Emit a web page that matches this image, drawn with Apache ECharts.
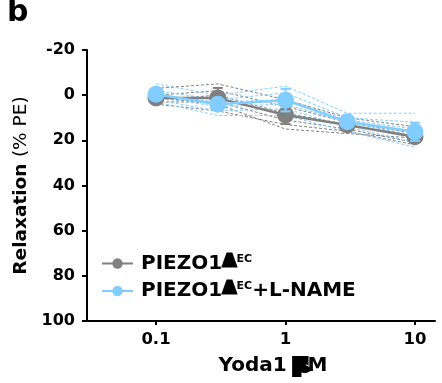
<!DOCTYPE html>
<html>
<head>
<meta charset="utf-8">
<script src="https://cdn.jsdelivr.net/npm/echarts@6/dist/echarts.min.js"></script>
<style>
html,body{margin:0;padding:0;background:#fff;}
#chart{width:442px;height:383px;}
</style>
</head>
<body>
<div id="chart"></div>
<script>
// ---- data ----
const doses = [0.1, 0.3, 1, 3, 10];            // Yoda1 µM
const xTickValues = [0.1, 1, 10];
const xTickLabels = ['0.1', '1', '10'];
const yTickMin = -20, yTickMax = 100, yTickStep = 20;

const seriesNames = ['PIEZO1ΔEC', 'PIEZO1ΔEC+L-NAME'];

const greyMean = [1.3, 1.3, 8.8, 13.2, 18.4];
const greySem  = [1.5, 4.5, 4.0, 1.5, 2.0];
const blueMean = [-0.4, 4.0, 2.2, 11.8, 16.2];
const blueSem  = [1.0, 2.0, 5.0, 1.5, 4.0];

const greyInd1 = [-3, -5, 2, 10, 14];
const greyInd2 = [0, -2, 5, 12, 17];
const greyInd3 = [2, 0, 8, 13, 19];
const greyInd4 = [3, 3, 11, 15, 21];
const greyInd5 = [4, 7, 13, 16, 22];
const greyInd6 = [1, 4, 15, 17, 19];

const blueInd1 = [-5, 0, -4, 8, 8];
const blueInd2 = [-2, 2, -1, 10, 12];
const blueInd3 = [0, 3, 2, 11, 15];
const blueInd4 = [1, 5, 4, 12, 18];
const blueInd5 = [2, 7, 6, 14, 21];
const blueInd6 = [3, 9, 9, 16, 23];

// ---- styling ----
const GREY = '#808080';
const BLUE = '#82CDFF';
const FONT = 'DejaVu Sans';

const greyInds = [greyInd1, greyInd2, greyInd3, greyInd4, greyInd5, greyInd6];
const blueInds = [blueInd1, blueInd2, blueInd3, blueInd4, blueInd5, blueInd6];

function pairs(vals) { return doses.map((d, i) => [d, vals[i]]); }
function errData(mean, sem) { return doses.map((d, i) => [d, mean[i] - sem[i], mean[i] + sem[i]]); }

function indSeries(vals, color, idx, z) {
  return {
    name: 'ind' + idx, type: 'line', data: pairs(vals), symbol: 'none', z: z,
    lineStyle: { color: color, width: 1, type: [3, 2] }, silent: true
  };
}

function errSeries(mean, sem, color, z) {
  return {
    type: 'custom', z: z, silent: true,
    data: errData(mean, sem),
    renderItem: function (params, api) {
      const x = api.value(0);
      const lo = api.coord([x, api.value(1)]);
      const hi = api.coord([x, api.value(2)]);
      const cw = 5;
      const st = { stroke: color, lineWidth: 2, fill: null };
      return {
        type: 'group',
        children: [
          { type: 'line', shape: { x1: lo[0], y1: lo[1], x2: hi[0], y2: hi[1] }, style: st },
          { type: 'line', shape: { x1: lo[0] - cw, y1: lo[1], x2: lo[0] + cw, y2: lo[1] }, style: st },
          { type: 'line', shape: { x1: hi[0] - cw, y1: hi[1], x2: hi[0] + cw, y2: hi[1] }, style: st }
        ]
      };
    }
  };
}

const series = [];
greyInds.forEach((v, i) => series.push(indSeries(v, GREY, 'g' + i, 1)));
blueInds.forEach((v, i) => series.push(indSeries(v, BLUE, 'b' + i, 2)));
series.push(errSeries(greyMean, greySem, GREY, 3));
series.push({
  name: seriesNames[0], type: 'line', data: pairs(greyMean), z: 4,
  symbol: 'circle', symbolSize: 17,
  itemStyle: { color: GREY }, lineStyle: { color: GREY, width: 2.5 }
});
series.push(errSeries(blueMean, blueSem, BLUE, 5));
series.push({
  name: seriesNames[1], type: 'line', data: pairs(blueMean), z: 6,
  symbol: 'circle', symbolSize: 17,
  itemStyle: { color: BLUE }, lineStyle: { color: BLUE, width: 2.5 }
});

const chart = echarts.init(document.getElementById('chart'), null, { renderer: 'canvas' });
chart.setOption({
  animation: false,
  backgroundColor: '#fff',
  textStyle: { fontFamily: FONT },
  grid: { left: 83, right: 7, top: 50, bottom: 62, containLabel: false },
  graphic: [{
    type: 'text', left: 7, top: -2,
    style: { text: 'b', font: 'bold 30px "DejaVu Sans"', fill: '#000' }
  }],
  legend: {
    data: seriesNames,
    orient: 'vertical',
    left: 96, top: 247,
    itemWidth: 31, itemHeight: 13, itemGap: 6,
    textStyle: {
      fontFamily: FONT, color: '#000', padding: [0, 0, 0, 3],
      rich: {
        m: { fontFamily: FONT, fontWeight: 'bold', fontSize: 20, lineHeight: 20, color: '#000' },
        d: { fontFamily: FONT, fontWeight: 'bold', fontSize: 16, lineHeight: 20, color: '#000',
             textBorderColor: '#000', textBorderWidth: 3, verticalAlign: 'top', padding: [0, 1, 0, 1] },
        s: { fontFamily: FONT, fontWeight: 'bold', fontSize: 11, lineHeight: 20, color: '#000',
             verticalAlign: 'top', padding: [0, 0, 8, 0] }
      }
    },
    formatter: function (name) {
      const rest = name.split('ΔEC')[1] || '';
      return '{m|PIEZO1}{d|Δ}{s|EC}' + (rest ? '{m|' + rest + '}' : '');
    }
  },
  xAxis: {
    type: 'log', logBase: 10, min: 0.02731, max: 14.27,
    name: '{a|Yoda1 }{u|μ}{a|M}',
    nameLocation: 'middle', nameGap: 30,
    nameTextStyle: {
      padding: [0, 0, 0, 28],
      rich: {
        a: { fontFamily: FONT, fontWeight: 'bold', fontSize: 20, color: '#000' },
        u: { fontFamily: FONT, fontWeight: 'bold', fontSize: 19, color: '#000',
             textBorderColor: '#000', textBorderWidth: 6 }
      }
    },
    axisLine: { show: true, onZero: false, lineStyle: { color: '#000', width: 2 } },
    axisTick: { show: true, length: 4, lineStyle: { color: '#000', width: 2 }, customValues: xTickValues },
    axisLabel: {
      customValues: xTickValues, margin: 10,
      fontFamily: FONT, fontWeight: 'bold', fontSize: 16.5, color: '#000',
      formatter: function (v) {
        for (let i = 0; i < xTickValues.length; i++) {
          if (Math.abs(v - xTickValues[i]) < 1e-9 * Math.max(1, xTickValues[i])) return xTickLabels[i];
        }
        return '';
      }
    },
    splitLine: { show: false }
  },
  yAxis: {
    type: 'value', inverse: true, min: yTickMin, max: yTickMax, interval: yTickStep,
    offset: -4,
    name: '{a|Relaxation }{b|(% PE)}',
    nameLocation: 'middle', nameGap: 55, nameRotate: 90,
    nameTextStyle: {
      rich: {
        a: { fontFamily: FONT, fontWeight: 'bold', fontSize: 18.5, color: '#000' },
        b: { fontFamily: FONT, fontWeight: 'normal', fontSize: 18.5, color: '#000' }
      }
    },
    axisLine: { show: true, lineStyle: { color: '#000', width: 2 } },
    axisTick: { show: true, length: 5, lineStyle: { color: '#000', width: 2 } },
    axisLabel: { margin: 12, fontFamily: FONT, fontWeight: 'bold', fontSize: 16, color: '#000' },
    splitLine: { show: false }
  },
  series: series
});
</script>
</body>
</html>
